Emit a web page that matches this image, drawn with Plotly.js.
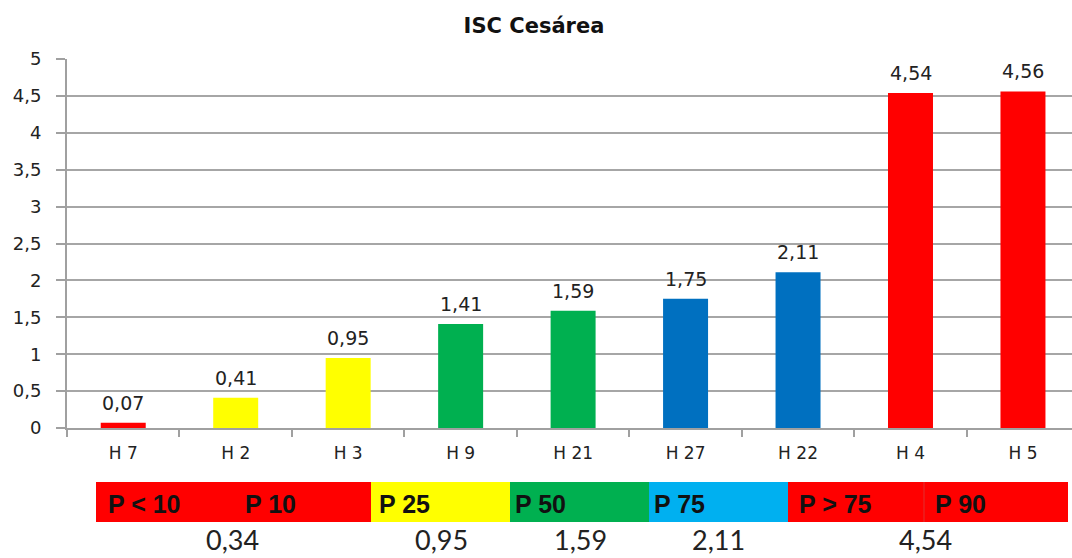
<!DOCTYPE html>
<html>
<head>
<meta charset="utf-8">
<script src="https://cdn.plot.ly/plotly-3.0.1.min.js"></script>
<style>
  html, body { margin: 0; padding: 0; background: #fff; }
  #chart { width: 1072px; height: 558px; }
</style>
</head>
<body>
<div id="chart"></div>
<script>
// Data
var hospitals = ['H 7', 'H 2', 'H 3', 'H 9', 'H 21', 'H 27', 'H 22', 'H 4', 'H 5'];
var iscValues = [0.07, 0.41, 0.95, 1.41, 1.59, 1.75, 2.11, 4.54, 4.56];
var barColors = ['#ff0000', '#ffff00', '#ffff00', '#00b050', '#00b050',
                 '#0070c0', '#0070c0', '#ff0000', '#ff0000'];

// Percentile band under the chart
var bandLabels = ['P < 10', 'P 10', 'P 25', 'P 50', 'P 75', 'P > 75', 'P 90'];
var bandColors = ['#ff0000', '#ff0000', '#ffff00', '#00b050', '#00b0f0', '#ff0000', '#ff0000'];
var percentileValues = ['0,34', '0,95', '1,59', '2,11', '4,54'];

// plot area in pixels
var L = 67, R = 1072, T = 59, B = 428;
function px(x) { return (x - L) / (R - L); }
function py(y) { return (B - y) / (B - T); }

// band segment edges (pixels) and label starts
var segEdges = [96, 233, 371, 510, 649, 788, 924, 1068];
var labelStarts = [106, 243, 377, 513, 652, 797, 933];
var numberCenters = [232, 441, 580, 718, 925];

var shapes = [];
var annotations = [];
for (var i = 0; i < bandLabels.length; i++) {
  shapes.push({
    type: 'rect', xref: 'paper', yref: 'paper',
    x0: px(segEdges[i]), x1: px(segEdges[i + 1]),
    y0: py(522), y1: py(482),
    fillcolor: bandColors[i], line: { width: 0 }, layer: 'above'
  });
  annotations.push({
    xref: 'paper', yref: 'paper', x: px(labelStarts[i]), y: py(504),
    xanchor: 'left', yanchor: 'middle', showarrow: false,
    text: '<b>' + bandLabels[i].replace('<', '&lt;').replace('>', '&gt;') + '</b>',
    font: { family: 'Liberation Sans Narrow, Liberation Sans, sans-serif', size: 25, color: '#111' }
  });
}
// faint divider between P > 75 and P 90
shapes.push({
  type: 'line', xref: 'paper', yref: 'paper',
  x0: px(924), x1: px(924), y0: py(522), y1: py(482),
  line: { color: '#e03030', width: 1 }
});
for (var j = 0; j < percentileValues.length; j++) {
  annotations.push({
    xref: 'paper', yref: 'paper', x: px(numberCenters[j]), y: py(557),
    xanchor: 'center', yanchor: 'bottom', showarrow: false, borderpad: 0,
    text: percentileValues[j],
    font: { family: 'Lato, Carlito, sans-serif', size: 27, color: '#222' }
  });
}

// value labels above the bars, placed on the data scale
for (var k = 0; k < hospitals.length; k++) {
  annotations.push({
    xref: 'x', yref: 'y', x: hospitals[k], y: iscValues[k],
    xanchor: 'center', yanchor: 'bottom', yshift: 7, showarrow: false,
    text: iscValues[k].toFixed(2).replace('.', ','),
    font: { family: 'DejaVu Sans, Verdana, sans-serif', size: 19, color: '#222' }
  });
}

var trace = {
  type: 'bar',
  x: hospitals,
  y: iscValues,
  width: 0.4,
  marker: { color: barColors, line: { width: 0 } },
  hoverinfo: 'x+y'
};

var layout = {
  width: 1072,
  height: 558,
  margin: { l: L, r: 1072 - R, t: T, b: 558 - B, pad: 0 },
  paper_bgcolor: '#fff',
  plot_bgcolor: '#fff',
  separators: ', ',
  showlegend: false,
  title: {
    text: '<b>ISC Cesárea</b>',
    x: 534 / 1072, xref: 'container', xanchor: 'center',
    y: 1 - 26 / 558, yref: 'container', yanchor: 'middle',
    font: { family: 'DejaVu Sans, Verdana, sans-serif', size: 21, color: '#111' }
  },
  xaxis: {
    type: 'category',
    range: [-0.5, 8.436],
    showline: true, linecolor: '#a0a0a0', linewidth: 2,
    ticks: 'outside', tickson: 'boundaries', ticklen: 7, tickcolor: '#a0a0a0', tickwidth: 2,
    ticklabelstandoff: 9,
    showgrid: false,
    tickfont: { family: 'DejaVu Sans, Verdana, sans-serif', size: 17, color: '#222' }
  },
  yaxis: {
    range: [0, 5],
    dtick: 0.5,
    tickformat: '.1~f',
    showline: true, linecolor: '#a0a0a0', linewidth: 2,
    ticks: 'outside', ticklen: 9, tickcolor: '#a0a0a0', tickwidth: 2,
    ticklabelstandoff: 11,
    showgrid: true, gridcolor: '#a6a6a6', gridwidth: 2,
    zeroline: false,
    tickfont: { family: 'DejaVu Sans, Verdana, sans-serif', size: 18, color: '#222' }
  },
  shapes: shapes,
  annotations: annotations
};

Plotly.newPlot('chart', [trace], layout, { displayModeBar: false, staticPlot: true });
</script>
</body>
</html>
